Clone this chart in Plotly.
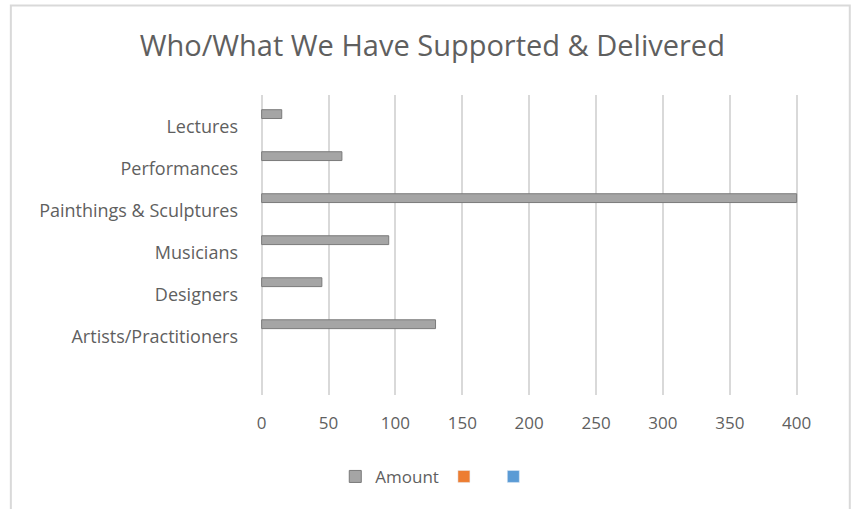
import plotly.graph_objects as go

categories = ["Artists/Practitioners", "Designers", "Musicians",
              "Painthings & Sculptures", "Performances", "Lectures"]
amount = [130, 45, 95, 400, 60, 15]
x_ticks = [0, 50, 100, 150, 200, 250, 300, 350, 400]
title_text = "Who/What We Have Supported & Delivered"

FONT = "'Open Sans', Lato, sans-serif"
TXT = "#5f5f5f"
GRID = "#d9d9d9"

fig = go.Figure()
fig.add_trace(go.Bar(
    y=categories, x=amount, orientation="h", name="Amount",
    width=0.21, offset=0.2,
    marker=dict(color="#a5a5a5", line=dict(color="#7a7a7a", width=1)),
))
fig.add_trace(go.Bar(y=categories, x=[None] * len(categories), orientation="h",
                     name=" ", marker=dict(color="#ed7d31"), showlegend=True))
fig.add_trace(go.Bar(y=categories, x=[None] * len(categories), orientation="h",
                     name=" ", marker=dict(color="#5b9bd5"), showlegend=True))

fig.update_layout(
    width=856, height=509,
    margin=dict(l=259, r=54, t=95, b=114),
    paper_bgcolor="white", plot_bgcolor="white",
    title=dict(text=title_text, x=0.505, xanchor="center", y=0.91, yanchor="middle",
               font=dict(family=FONT, size=29, color=TXT)),
    font=dict(family=FONT, size=17, color=TXT),
    barmode="overlay",
    showlegend=True,
    legend=dict(orientation="h", x=0.332, xanchor="center", y=-0.273, yanchor="middle",
                font=dict(family=FONT, size=17, color=TXT),
                itemwidth=30, traceorder="normal"),
    xaxis=dict(range=[-2, 404], tickvals=x_ticks, showgrid=True, gridcolor=GRID,
               gridwidth=1.5, zeroline=True, zerolinecolor=GRID, zerolinewidth=1.5,
               showline=False, ticks="", ticklabelstandoff=16,
               tickfont=dict(family=FONT, size=17, color=TXT), fixedrange=True),
    yaxis=dict(type="category", categoryorder="array", categoryarray=categories,
               range=[-1.38, 5.76], showgrid=False, zeroline=False, showline=False,
               ticks="", ticklabelstandoff=20,
               tickfont=dict(family=FONT, size=18, color=TXT), fixedrange=True),
    shapes=[dict(type="rect", xref="paper", yref="paper",
                 x0=-0.457, x1=1.088, y0=-0.5, y1=1.298,
                 line=dict(color=GRID, width=2), fillcolor="rgba(0,0,0,0)", layer="below")],
)

fig.write_html("out.html")
